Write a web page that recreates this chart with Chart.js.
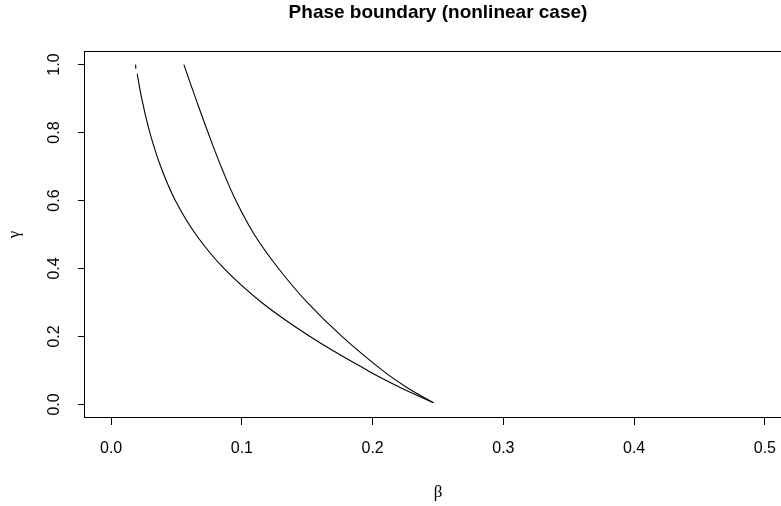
<!DOCTYPE html>
<html>
<head>
<meta charset="utf-8">
<script src="https://cdn.jsdelivr.net/npm/chart.js@4.4.0/dist/chart.umd.min.js"></script>
<style>
html, body { margin: 0; padding: 0; background: #fff; overflow: hidden; }
#wrap { width: 781px; height: 506px; overflow: hidden; }
</style>
</head>
<body>
<div id="wrap"><canvas id="phase-chart" width="800" height="506"></canvas></div>
<script>
var chartTitle = 'Phase boundary (nonlinear case)';
var xTitle = 'β';
var yTitle = 'γ';
var xTicks = [0.0, 0.1, 0.2, 0.3, 0.4, 0.5];
var yTicks = [0.0, 0.2, 0.4, 0.6, 0.8, 1.0];

// inner (left) boundary, null = small gap near the top
var lowerBeta  = [0.0187, 0.0189, 0.0194, 0.0199, 0.0234, 0.0296, 0.0379, 0.0491, 0.0648, 0.0863, 0.1151, 0.1521, 0.1961, 0.2211, 0.2465];
var lowerGamma = [1.000, 0.988, null, 0.973, 0.900, 0.800, 0.700, 0.600, 0.500, 0.400, 0.300, 0.200, 0.100, 0.050, 0.005];

// outer (right) boundary
var upperBeta  = [0.0556, 0.0647, 0.0741, 0.0841, 0.0954, 0.1095, 0.1280, 0.1500, 0.1765, 0.2075, 0.2262, 0.2465];
var upperGamma = [1.000, 0.900, 0.800, 0.700, 0.600, 0.500, 0.400, 0.300, 0.200, 0.100, 0.050, 0.005];

function toPoints(xs, ys) {
	var res = [];
	for (var i = 0; i < xs.length; ++i) {
		res.push({x: xs[i], y: ys[i]});
	}
	return res;
}

var sansFont = '"Liberation Sans", Arial, sans-serif';
var serifFont = '"Liberation Serif", "DejaVu Serif", serif';

// title over the plot region and the open box (no right side visible)
var boxPlugin = {
	id: 'rBox',
	afterDraw: function(chart) {
		var ctx = chart.ctx, a = chart.chartArea;
		ctx.save();
		ctx.strokeStyle = '#000';
		ctx.lineWidth = 1;
		ctx.strokeRect(a.left - 0.5, a.top + 0.5, a.right - a.left, a.bottom - a.top - 1);
		ctx.fillStyle = '#000';
		ctx.font = 'bold 19px ' + sansFont;
		ctx.textAlign = 'center';
		ctx.textBaseline = 'middle';
		ctx.fillText(chartTitle, (a.left + a.right) / 2, 13);
		ctx.restore();
	}
};

var ctx = document.getElementById('phase-chart').getContext('2d');
var phaseChart = new Chart(ctx, {
	type: 'scatter',
	data: {
		datasets: [{
			data: toPoints(lowerBeta, lowerGamma),
			showLine: true,
			borderColor: '#000',
			borderWidth: 1.1,
			pointRadius: 0,
			tension: 0.4,
			spanGaps: false
		}, {
			data: toPoints(upperBeta, upperGamma),
			showLine: true,
			borderColor: '#000',
			borderWidth: 1.1,
			pointRadius: 0,
			tension: 0.4
		}]
	},
	options: {
		responsive: false,
		animation: false,
		devicePixelRatio: 1,
		layout: { padding: { left: 0, right: 9, top: 51, bottom: 0 } },
		plugins: {
			legend: { display: false },
			tooltip: { enabled: false },
			title: { display: false }
		},
		scales: {
			x: {
				type: 'linear',
				min: -0.02,
				max: 0.52,
				afterFit: function(scale) { scale.height = 88; },
				afterBuildTicks: function(scale) {
					scale.ticks = xTicks.map(function(v) { return {value: v}; });
				},
				border: { display: false },
				grid: { drawOnChartArea: false, drawTicks: true, tickLength: 7, color: '#000' },
				ticks: {
					color: '#000',
					font: { family: sansFont, size: 16 },
					padding: 14,
					maxRotation: 0,
					callback: function(v) { return v.toFixed(1); }
				},
				title: {
					display: true,
					text: xTitle,
					color: '#000',
					font: { family: serifFont, size: 17 },
					padding: { top: 0, bottom: 3 }
				}
			},
			y: {
				type: 'linear',
				min: -0.04,
				max: 1.04,
				afterFit: function(scale) { scale.width = 85; },
				afterBuildTicks: function(scale) {
					scale.ticks = yTicks.map(function(v) { return {value: v}; });
				},
				border: { display: false },
				grid: { drawOnChartArea: false, drawTicks: true, tickLength: 7, color: '#000' },
				ticks: {
					color: '#000',
					font: { family: sansFont, size: 16 },
					padding: 12,
					minRotation: 90,
					maxRotation: 90,
					crossAlign: 'center',
					callback: function(v) { return v.toFixed(1); }
				},
				title: {
					display: true,
					text: yTitle,
					color: '#000',
					font: { family: serifFont, size: 17 },
					padding: { top: 4, bottom: 0 }
				}
			}
		}
	},
	plugins: [boxPlugin]
});
</script>
</body>
</html>
